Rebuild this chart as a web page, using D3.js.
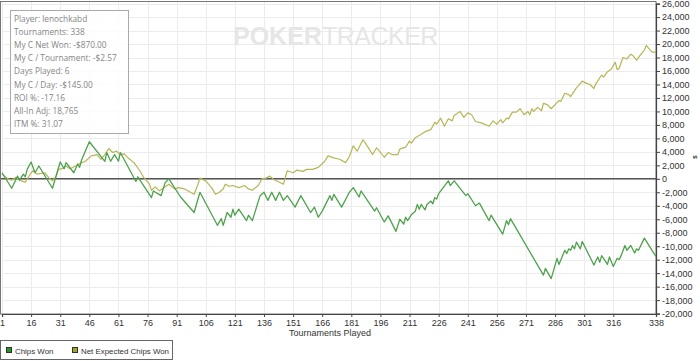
<!DOCTYPE html>
<html><head><meta charset="utf-8">
<script src="https://cdn.jsdelivr.net/npm/d3@7"></script>
<style>
html,body{margin:0;padding:0;background:#fff;}
svg{display:block;}
text{font-family:"Liberation Sans",Arial,sans-serif;}
</style></head>
<body>
<svg id="c" width="700" height="361"></svg>
<script>
// ---- data ----
const xTickValues = [1,16,31,46,61,76,91,106,121,136,151,166,181,196,211,226,241,256,271,286,301,316,338];
const yTickValues = [-20000,-18000,-16000,-14000,-12000,-10000,-8000,-6000,-4000,-2000,0,2000,4000,6000,8000,10000,12000,14000,16000,18000,20000,22000,24000,26000];
const seriesNames = ["Chips Won","Net Expected Chips Won"];
const statLines = ["Player: lenochkabd","Tournaments: 338","My C Net Won: -$870.00","My C / Tournament: -$2.57","Days Played: 6","My C / Day: -$145.00","ROI %: -17.16","All-In Adj: 18,765","ITM %: 31.07"];

const chipsT = [1,6,9,10,12,13,14,16,18,20,27,31,33,34,38,40,41,42,46,54,55,57,59,61,62,70,71,78,79,83,85,87,93,100,103,112,114,115,117,119,120,121,123,127,128,130,134,136,138,140,142,144,146,148,152,155,160,162,164,166,170,171,172,176,180,182,185,186,193,194,198,200,204,206,208,209,210,212,214,215,216,217,219,220,222,223,224,225,226,231,232,234,240,241,245,247,252,253,259,261,262,263,280,281,284,287,288,291,292,293,294,295,296,297,299,300,306,308,309,310,313,314,316,318,319,320,322,323,325,327,328,329,332,337,338];
const chipsV = [900,-1400,400,-200,700,300,1400,2500,900,1900,-1400,2500,1500,2400,900,2200,1700,2800,5500,2600,3900,2600,3600,2600,3900,-400,300,-2800,-1800,-2500,-600,0,-2700,-5000,-2000,-6900,-5900,-6900,-5000,-5700,-4500,-5400,-4500,-6200,-5400,-6200,-2500,-2000,-3200,-2000,-3200,-2000,-3200,-2500,-4200,-2500,-5000,-4200,-5700,-4800,-2500,-3200,-2300,-4200,-2000,-1300,-2700,-1800,-4800,-4300,-6400,-5500,-7800,-6000,-6700,-5700,-6200,-5300,-4800,-3800,-4500,-3800,-4600,-3800,-3300,-3700,-2800,-3000,-2200,-300,-1000,-300,-2500,-2200,-4000,-3600,-6200,-5400,-8200,-6200,-6800,-5900,-14300,-13300,-14800,-11800,-12700,-10600,-11100,-10400,-10600,-9900,-10400,-9400,-10400,-9300,-12800,-11600,-12400,-11400,-12700,-11600,-13000,-11800,-12000,-11400,-9900,-10600,-9900,-11000,-10400,-10600,-8800,-11100,-11500];

const expT = [1,4,6,8,11,13,16,17,19,23,25,27,29,30,32,34,36,39,42,44,47,50,52,54,56,58,60,62,64,66,69,72,74,77,78,80,82,84,87,90,92,95,97,100,102,103,106,109,111,113,115,116,118,120,123,126,128,130,133,135,137,139,141,144,146,148,151,153,156,158,161,164,167,169,172,175,178,180,182,184,187,188,192,194,195,198,200,202,205,206,209,211,212,214,217,219,222,224,225,227,229,231,233,234,237,239,241,243,245,248,252,254,256,258,259,261,262,264,266,268,270,272,273,274,275,277,279,280,282,284,286,288,289,291,293,294,297,300,302,304,306,307,310,311,313,315,317,318,319,321,323,325,326,328,330,332,333,335,336,338];
const expV = [700,0,-200,200,-300,-500,900,1200,700,900,200,-300,400,1400,1500,1900,1500,1900,2400,2600,3400,3600,2900,3600,4500,3900,4100,3600,3700,3100,2400,1200,200,-800,-1700,-1200,-1800,-1400,-800,-1500,-1300,-1500,-1800,-2300,-800,100,-300,-1300,-2300,-2000,-1500,-800,-1100,-1000,-1300,-1000,-1500,-1700,-1000,0,100,400,-100,-500,-800,1200,900,1300,1100,1400,1400,1700,2500,3400,3100,2900,2400,3300,4900,4100,5800,5400,3600,4600,4300,3200,3900,3600,3600,4400,4700,5600,5300,6100,6600,7000,7300,8400,8100,9000,7800,8900,8600,9400,10000,9100,9800,9500,8500,8300,7800,8600,8100,8800,8300,9000,8900,9900,9900,10400,9500,10000,9500,10400,10000,10600,10100,11200,11000,10400,11000,11600,11500,12700,12500,12200,13500,14500,14200,14000,13400,14100,15400,15100,15900,16300,17300,16200,16400,18000,17800,18500,18300,17600,18400,19100,19800,19100,18800,18800];

const colors = ["#4ea24e","#b8b556"];
const legendColors = ["#1f9a1f","#a6a22a"];

// ---- chart ----
const svg = d3.select("#c");
const x = d3.scaleLinear().domain([1,338]).range([2,656]);
const y = d3.scaleLinear().domain([-20000,26000]).range([313.6,3.6]);

// gridlines
svg.append("g").selectAll("line").data(yTickValues).join("line")
  .attr("x1",2).attr("x2",656).attr("y1",d=>Math.round(y(d))+0.5).attr("y2",d=>Math.round(y(d))+0.5)
  .attr("stroke","#ececec").attr("stroke-width",1);
svg.append("g").selectAll("line").data(xTickValues).join("line")
  .attr("y1",2).attr("y2",314).attr("x1",d=>Math.round(x(d))+0.5).attr("x2",d=>Math.round(x(d))+0.5)
  .attr("stroke","#ececec").attr("stroke-width",1);

// watermark
const wm = svg.append("text").attr("x",233).attr("y",45).attr("font-size",25).attr("fill","#e6e6e6")
  .style("font-family","'Liberation Sans',Arial,sans-serif");
wm.append("tspan").attr("font-weight","bold").text("POKER");
wm.append("tspan").attr("font-weight","normal").style("letter-spacing","-0.5px").text("TRACKER");

// frame
svg.append("rect").attr("x",0.5).attr("y",1.5).attr("width",655.5).attr("height",312.5)
  .attr("fill","none").attr("stroke","#777").attr("stroke-width",1);

// zero line
svg.append("line").attr("x1",1).attr("x2",656).attr("y1",y(0)).attr("y2",y(0))
  .attr("stroke","#555").attr("stroke-width",1.6);

// lines
const line = d3.line().x(d=>x(d[0])).y(d=>y(d[1]));
const expData = expT.map((t,i)=>[t,expV[i]]);
const chipsData = chipsT.map((t,i)=>[t,chipsV[i]]);
svg.append("path").datum(expData).attr("d",line).attr("fill","none")
  .attr("stroke",colors[1]).attr("stroke-width",1.2).attr("stroke-linejoin","round");
svg.append("path").datum(chipsData).attr("d",line).attr("fill","none")
  .attr("stroke",colors[0]).attr("stroke-width",1.3).attr("stroke-linejoin","round");

// axes
const fmt = d=>d3.format(",")(d).replace("\u2212","-");
const yAxis = svg.append("g").attr("transform","translate(656,0)")
  .call(d3.axisRight(y).tickValues(yTickValues).tickSize(4).tickPadding(2).tickFormat(fmt));
const xAxis = svg.append("g").attr("transform","translate(0,314)")
  .call(d3.axisBottom(x).tickValues(xTickValues).tickSize(3).tickPadding(3).tickFormat(d=>String(d)));
[yAxis,xAxis].forEach(a=>{
  a.select(".domain").attr("stroke","#444").attr("stroke-width",1.2);
  a.selectAll(".tick line").attr("stroke","#444");
  a.selectAll("text").attr("fill","#333").attr("font-size",9).style("font-family","'Liberation Sans',Arial,sans-serif");
});

// axis titles
svg.append("text").attr("x",330).attr("y",336).attr("text-anchor","middle").attr("font-size",9).attr("fill","#333").text("Tournaments Played");
svg.append("text").attr("transform","translate(697,157) rotate(-90)").attr("text-anchor","middle").attr("font-size",6).attr("font-weight","bold").attr("fill","#333").text("$");

// info box
svg.append("rect").attr("x",10.5).attr("y",10.5).attr("width",118).attr("height",123)
  .attr("fill","#fff").attr("fill-opacity",0.85).attr("stroke","#aaa").attr("stroke-width",1);
svg.append("g").selectAll("text").data(statLines).join("text")
  .attr("x",14).attr("y",(d,i)=>22+i*13.1).attr("font-size",8.3).attr("fill","#858585")
  .style("font-family","'Open Sans',sans-serif").text(d=>d);

// legend
svg.append("rect").attr("x",0.5).attr("y",340.5).attr("width",172).attr("height",19)
  .attr("fill","#fff").attr("stroke","#666").attr("stroke-width",1);
const legX = [6,72];
seriesNames.forEach((n,i)=>{
  svg.append("rect").attr("x",legX[i]+0.5).attr("y",347.5).attr("width",5).attr("height",5)
    .attr("fill",legendColors[i]).attr("stroke","#333").attr("stroke-width",1);
  svg.append("text").attr("x",legX[i]+9).attr("y",354).attr("font-size",7.9).attr("fill","#333").text(n);
});
</script>
</body></html>
